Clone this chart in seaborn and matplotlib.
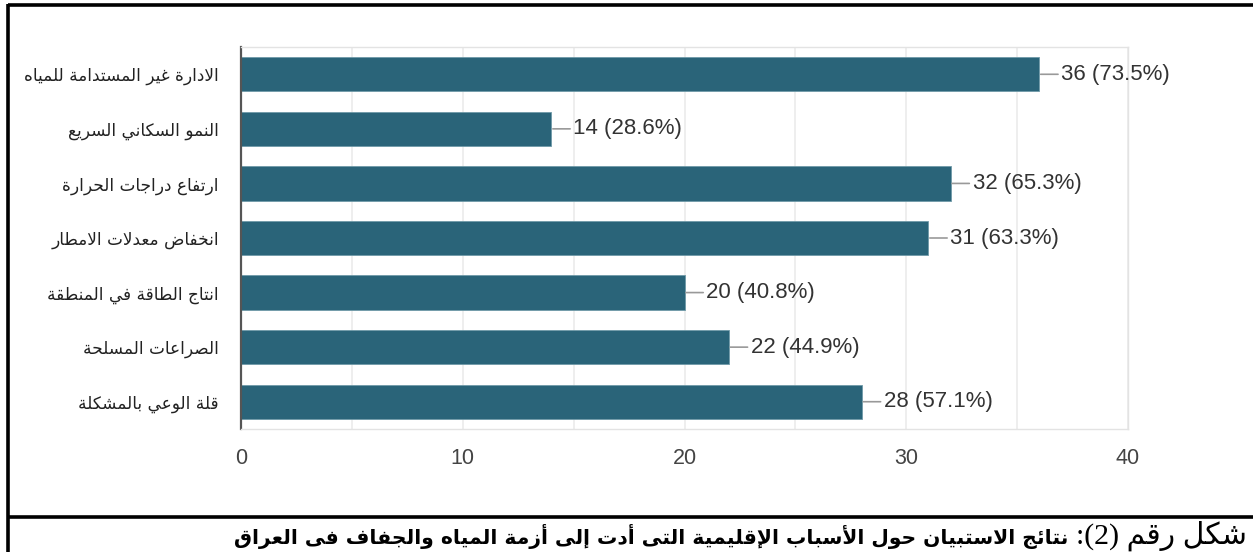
import matplotlib
matplotlib.use("Agg")
import matplotlib.pyplot as plt
from matplotlib.lines import Line2D
import seaborn as sns
import pandas as pd

# ---------------- data ----------------
categories = [
    "الادارة غير المستدامة للمياه",
    "النمو السكاني السريع",
    "ارتفاع دراجات الحرارة",
    "انخفاض معدلات الامطار",
    "انتاج الطاقة في المنطقة",
    "الصراعات المسلحة",
    "قلة الوعي بالمشكلة",
]
counts = [36, 14, 32, 31, 20, 22, 28]
percents = [73.5, 28.6, 65.3, 63.3, 40.8, 44.9, 57.1]
x_ticks = [0, 10, 20, 30, 40]
caption_regular = "شكل رقم (2):"
caption_bold = "نتائج الاستبيان حول الأسباب الإقليمية التى أدت إلى أزمة المياه والجفاف فى العراق"

# ---------------- minimal Arabic shaping ----------------
def _f(iso, fin=None, ini=None, med=None):
    return tuple(chr(c) if c is not None else None for c in (iso, fin, ini, med))

FORMS = {
    'ء': _f(0xFE80),
    'آ': _f(0xFE81, 0xFE82), 'أ': _f(0xFE83, 0xFE84), 'ؤ': _f(0xFE85, 0xFE86),
    'إ': _f(0xFE87, 0xFE88), 'ئ': _f(0xFE89, 0xFE8A, 0xFE8B, 0xFE8C),
    'ا': _f(0xFE8D, 0xFE8E), 'ب': _f(0xFE8F, 0xFE90, 0xFE91, 0xFE92),
    'ة': _f(0xFE93, 0xFE94), 'ت': _f(0xFE95, 0xFE96, 0xFE97, 0xFE98),
    'ث': _f(0xFE99, 0xFE9A, 0xFE9B, 0xFE9C), 'ج': _f(0xFE9D, 0xFE9E, 0xFE9F, 0xFEA0),
    'ح': _f(0xFEA1, 0xFEA2, 0xFEA3, 0xFEA4), 'خ': _f(0xFEA5, 0xFEA6, 0xFEA7, 0xFEA8),
    'د': _f(0xFEA9, 0xFEAA), 'ذ': _f(0xFEAB, 0xFEAC), 'ر': _f(0xFEAD, 0xFEAE),
    'ز': _f(0xFEAF, 0xFEB0), 'س': _f(0xFEB1, 0xFEB2, 0xFEB3, 0xFEB4),
    'ش': _f(0xFEB5, 0xFEB6, 0xFEB7, 0xFEB8), 'ص': _f(0xFEB9, 0xFEBA, 0xFEBB, 0xFEBC),
    'ض': _f(0xFEBD, 0xFEBE, 0xFEBF, 0xFEC0), 'ط': _f(0xFEC1, 0xFEC2, 0xFEC3, 0xFEC4),
    'ظ': _f(0xFEC5, 0xFEC6, 0xFEC7, 0xFEC8), 'ع': _f(0xFEC9, 0xFECA, 0xFECB, 0xFECC),
    'غ': _f(0xFECD, 0xFECE, 0xFECF, 0xFED0), 'ف': _f(0xFED1, 0xFED2, 0xFED3, 0xFED4),
    'ق': _f(0xFED5, 0xFED6, 0xFED7, 0xFED8), 'ك': _f(0xFED9, 0xFEDA, 0xFEDB, 0xFEDC),
    'ل': _f(0xFEDD, 0xFEDE, 0xFEDF, 0xFEE0), 'م': _f(0xFEE1, 0xFEE2, 0xFEE3, 0xFEE4),
    'ن': _f(0xFEE5, 0xFEE6, 0xFEE7, 0xFEE8), 'ه': _f(0xFEE9, 0xFEEA, 0xFEEB, 0xFEEC),
    'و': _f(0xFEED, 0xFEEE), 'ى': _f(0xFEEF, 0xFEF0),
    'ي': _f(0xFEF1, 0xFEF2, 0xFEF3, 0xFEF4),
}
LAMALEF = {
    'آ': (chr(0xFEF5), chr(0xFEF6)), 'أ': (chr(0xFEF7), chr(0xFEF8)),
    'إ': (chr(0xFEF9), chr(0xFEFA)), 'ا': (chr(0xFEFB), chr(0xFEFC)),
}
MIRROR = {'(': ')', ')': '('}


def shape(text):
    chars = list(text)
    n = len(chars)
    out = []
    i = 0
    while i < n:
        c = chars[i]
        if c not in FORMS:
            out.append(c)
            i += 1
            continue
        prev = chars[i - 1] if i > 0 else None
        connect_prev = (prev in FORMS and FORMS[prev][2] is not None
                        and FORMS[c][1] is not None)
        if c == 'ل' and i + 1 < n and chars[i + 1] in LAMALEF:
            out.append(LAMALEF[chars[i + 1]][1 if connect_prev else 0])
            i += 2
            continue
        nxt = chars[i + 1] if i + 1 < n else None
        connect_next = (FORMS[c][2] is not None and nxt in FORMS
                        and FORMS[nxt][1] is not None)
        iso, fin, ini, med = FORMS[c]
        if connect_prev and connect_next:
            out.append(med)
        elif connect_prev:
            out.append(fin)
        elif connect_next:
            out.append(ini)
        else:
            out.append(iso)
        i += 1
    return ''.join(MIRROR.get(ch, ch) for ch in reversed(out))


# ---------------- plot ----------------
sns.set_theme(style="white")
plt.rcParams['font.family'] = ['DejaVu Sans']

bar_color = "#2a6479"
df = pd.DataFrame({"cat": [shape(c) for c in categories], "count": counts})

fig = plt.figure(figsize=(12.53, 5.52), dpi=100)
fig.patch.set_facecolor("white")
ax = fig.add_axes([241 / 1253, 1 - 429 / 552, (1128 - 241) / 1253, (429 - 47) / 552])

sns.barplot(data=df, x="count", y="cat", orient="h", color=bar_color,
            width=0.63, saturation=1, ax=ax, edgecolor="#6f9aa8", linewidth=0.6)

ax.set_xlim(0, 40)
ax.set_ylim(6.5, -0.5)
ax.set_xticks(x_ticks)
ax.set_xticks([t + 5 for t in x_ticks[:-1]], minor=True)
ax.grid(axis="x", which="both", color="#e9e9e9", lw=1.1)
ax.grid(axis="y", visible=False)
ax.set_axisbelow(True)
ax.set_xlabel("")
ax.set_ylabel("")

for side in ["top", "right", "bottom"]:
    ax.spines[side].set_color("#e3e3e3")
    ax.spines[side].set_linewidth(1.0)
ax.spines["left"].set_color("#555555")
ax.spines["left"].set_linewidth(1.6)

ax.tick_params(axis="both", which="both", length=0)
ax.tick_params(axis="x", pad=14)
ax.tick_params(axis="y", pad=16)
for lbl in ax.get_xticklabels():
    lbl.set_fontfamily("Liberation Sans")
    lbl.set_fontsize(15.5)
    lbl.set_color("#444444")
for lbl in ax.get_yticklabels():
    lbl.set_fontfamily("DejaVu Sans")
    lbl.set_fontsize(12.2)
    lbl.set_color("#222222")

for i, (v, p) in enumerate(zip(counts, percents)):
    ax.annotate(f"{v} ({p}%)", xy=(v, i), xytext=(22, 0), textcoords="offset pixels",
                ha="left", va="center", fontsize=16, family="Liberation Sans",
                color="#333333",
                arrowprops=dict(arrowstyle="-", color="#999999", lw=1.2,
                                shrinkA=0, shrinkB=1))

# outer frame
W, H = 1253, 552
def fline(x0, y0, x1, y1, lw=2.6):
    fig.add_artist(Line2D([x0 / W, x1 / W], [1 - y0 / H, 1 - y1 / H],
                          transform=fig.transFigure, color="black", lw=lw,
                          solid_capstyle="butt"))

fline(8, 5, W, 5)
fline(8, 3.7, 8, H)
fline(8, 517, W, 517)

# caption
t1 = fig.text(1247 / W, 1 - 536 / H, shape(caption_regular), ha="right", va="center",
              fontsize=21.5, family=["Liberation Serif", "DejaVu Sans"], color="black")
fig.canvas.draw()
r = fig.canvas.get_renderer()
bb = t1.get_window_extent(renderer=r)
fig.text((bb.x0 - 8) / W, 1 - 536 / H, shape(caption_bold), ha="right", va="center",
         fontsize=14.6, family="DejaVu Sans", fontweight="bold", color="black")

fig.savefig("out.png", dpi=100, facecolor="white")
